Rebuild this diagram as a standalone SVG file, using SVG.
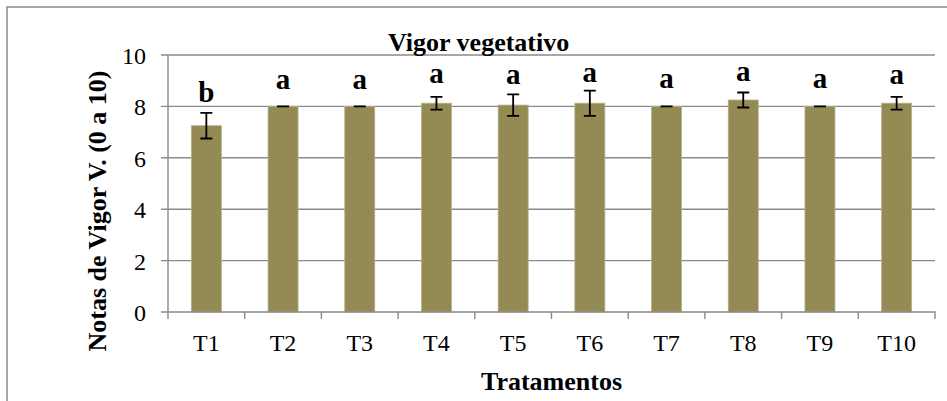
<svg xmlns="http://www.w3.org/2000/svg" width="947" height="401" viewBox="0 0 947 401" font-family="'Liberation Serif', 'DejaVu Serif', serif">
<style>
.grid{stroke:#8a8a8a;stroke-width:1.4;fill:none}
.bar{fill:#948a54;stroke:#b7b08a;stroke-width:0.8}
.err{stroke:#000;stroke-width:1.8;fill:none}
.tick{font-family:'Liberation Serif', 'DejaVu Serif', serif;font-size:24px;fill:#000}
.lbl{font-family:'Liberation Serif', 'DejaVu Serif', serif;font-size:29px;font-weight:bold;fill:#000;text-anchor:middle}
.title{font-family:'Liberation Serif', 'DejaVu Serif', serif;font-size:26px;font-weight:bold;fill:#000}
</style>
<rect x="0" y="0" width="947" height="401" fill="#fff"/>
<rect x="7" y="7" width="960" height="420" fill="none" stroke="#8a8a8a" stroke-width="1.5"/>
<g id="gridlines" class="grid">
<line x1="161" y1="55" x2="935" y2="55"/>
<line x1="161" y1="106.4" x2="935" y2="106.4"/>
<line x1="161" y1="157.8" x2="935" y2="157.8"/>
<line x1="161" y1="209.2" x2="935" y2="209.2"/>
<line x1="161" y1="260.6" x2="935" y2="260.6"/>
</g>
<g id="yaxis">
<line class="grid" x1="168" y1="55" x2="168" y2="312"/>
<g class="tick" text-anchor="end">
<text x="146" y="64">10</text>
<text x="146" y="115">8</text>
<text x="146" y="166.5">6</text>
<text x="146" y="218">4</text>
<text x="146" y="269.5">2</text>
<text x="146" y="320.5">0</text>
</g>
<text class="title" transform="translate(106,211) rotate(-90)" text-anchor="middle">Notas de Vigor V. (0 a 10)</text>
</g>
<g id="title"><text class="title" x="388" y="51">Vigor vegetativo</text></g>
<g id="bars">
<g id="T1"><rect class="bar" x="191.35" y="125.7" width="30" height="186.3"/><path class="err" d="M206.35 112.8V138.5M200.35 112.8h12M200.35 138.5h12"/><text class="lbl" x="206.35" y="101.7">b</text></g>
<g id="T2"><rect class="bar" x="268.05" y="106.4" width="30" height="205.6"/><path class="err" d="M277.05 106.4h12"/><text class="lbl" x="283.05" y="89.3">a</text></g>
<g id="T3"><rect class="bar" x="344.75" y="106.4" width="30" height="205.6"/><path class="err" d="M353.75 106.4h12"/><text class="lbl" x="359.75" y="89.3">a</text></g>
<g id="T4"><rect class="bar" x="421.45" y="103.2" width="30" height="208.8"/><path class="err" d="M436.45 96.8V109.6M430.45 96.8h12M430.45 109.6h12"/><text class="lbl" x="436.45" y="83.3">a</text></g>
<g id="T5"><rect class="bar" x="498.15" y="105.1" width="30" height="206.9"/><path class="err" d="M513.15 94.3V115.9M507.15 94.3h12M507.15 115.9h12"/><text class="lbl" x="513.15" y="84">a</text></g>
<g id="T6"><rect class="bar" x="574.85" y="103.2" width="30" height="208.8"/><path class="err" d="M589.85 90.6V115.8M583.85 90.6h12M583.85 115.8h12"/><text class="lbl" x="589.85" y="82.3">a</text></g>
<g id="T7"><rect class="bar" x="651.55" y="106.4" width="30" height="205.6"/><path class="err" d="M660.55 106.4h12"/><text class="lbl" x="666.55" y="88.3">a</text></g>
<g id="T8"><rect class="bar" x="728.25" y="100" width="30" height="212"/><path class="err" d="M743.25 92.5V107.5M737.25 92.5h12M737.25 107.5h12"/><text class="lbl" x="743.25" y="80.7">a</text></g>
<g id="T9"><rect class="bar" x="804.95" y="106.4" width="30" height="205.6"/><path class="err" d="M813.95 106.4h12"/><text class="lbl" x="819.95" y="88.3">a</text></g>
<g id="T10"><rect class="bar" x="881.65" y="103.2" width="30" height="208.8"/><path class="err" d="M896.65 96.8V109.6M890.65 96.8h12M890.65 109.6h12"/><text class="lbl" x="896.65" y="84">a</text></g>
</g>
<g id="xaxis">
<path class="grid" d="M161 312H935.7M168 312v7M244.7 312v7M321.4 312v7M398.1 312v7M474.8 312v7M551.5 312v7M628.2 312v7M704.9 312v7M781.6 312v7M858.3 312v7M935 312v7"/>
<g class="tick" text-anchor="middle">
<text x="206.35" y="351">T1</text>
<text x="283.05" y="351">T2</text>
<text x="359.75" y="351">T3</text>
<text x="436.45" y="351">T4</text>
<text x="513.15" y="351">T5</text>
<text x="589.85" y="351">T6</text>
<text x="666.55" y="351">T7</text>
<text x="743.25" y="351">T8</text>
<text x="819.95" y="351">T9</text>
<text x="896.65" y="351">T10</text>
</g>
<text class="title" x="551.5" y="390" text-anchor="middle">Tratamentos</text>
</g>
</svg>
